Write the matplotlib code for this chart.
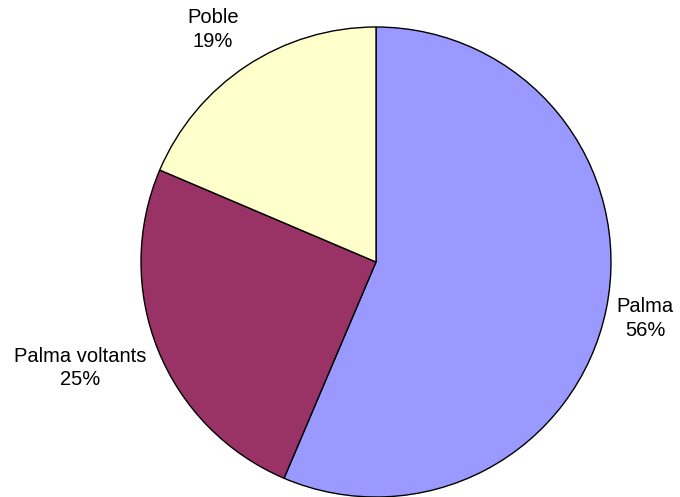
import matplotlib
matplotlib.use("Agg")
import matplotlib.pyplot as plt

labels = ["Palma", "Palma voltants", "Poble"]
values = [56.4, 25.0, 18.6]
colors = ["#9999FF", "#993366", "#FFFFCC"]
# label anchor points (data units, pie radius = 1)
label_pos = [(1.145, -0.24), (-1.26, -0.45), (-0.694, 0.99)]

plt.rcParams["font.family"] = ["Liberation Sans", "DejaVu Sans"]

fig = plt.figure(figsize=(6.8, 4.97), dpi=100)
ax = fig.add_axes([0, 0, 1, 1])
ax.pie(values, colors=colors, startangle=90, counterclock=False,
       radius=1.0, wedgeprops=dict(edgecolor="black", linewidth=1.0))

total = sum(values)
for name, v, (x, y) in zip(labels, values, label_pos):
    ax.text(x, y, f"{name}\n{round(v / total * 100)}%", ha="center", va="center",
            fontsize=14.5, linespacing=1.3)

ax.set_aspect("auto")
ax.set_xlim(-376 / 235, (680 - 376) / 235)
ax.set_ylim(-1.0, 262 / 235)
ax.axis("off")

fig.savefig("out.png", dpi=100)
